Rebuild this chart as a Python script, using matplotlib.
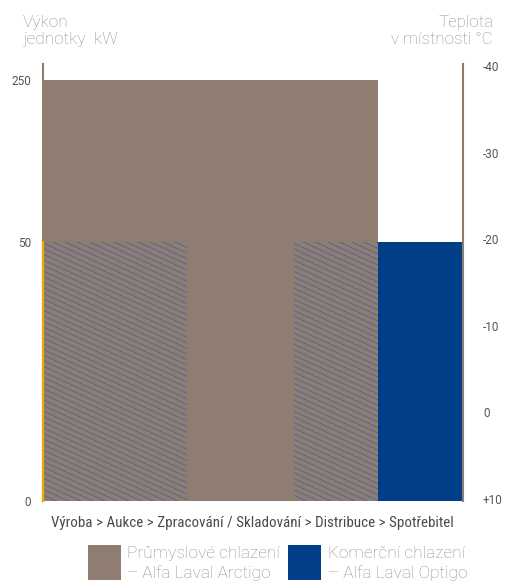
import numpy as np
import matplotlib
matplotlib.use("Agg")
import matplotlib.pyplot as plt
from matplotlib.patches import Rectangle
from matplotlib.transforms import IdentityTransform

# ---------------- data ----------------
stages = ['Výroba', 'Aukce', 'Zpracování / Skladování', 'Distribuce', 'Spotřebitel']
industrial_span = (0.0, 33.5)        # x extent of industrial cooling bar
industrial_kw = 250
commercial_span = (33.5, 42.0)
commercial_kw = 50
hatch_spans = [(0.1, 14.4), (25.1, 33.5)]
hatch_kw = 50
power_ticks = [0, 50, 250]
temp_ticks = [10, 0, -10, -20, -30, -40]
temp_labels = ['+10', '0', '-10', '-20', '-30', '-40']
left_title = ['Výkon', 'jednotky  kW']
right_title = ['Teplota', 'v místnosti °C']
legend_labels = [['Průmyslové chlazení', '– Alfa Laval Arctigo'],
                 ['Komerční chlazení', '– Alfa Laval Optigo']]

BROWN = '#8f7d72'
BLUE = '#003f87'
HATCH = '#3f62a8'
ORANGE = '#f2a900'
TITLE_C = '#9c8b82'
TICK_C = '#555555'

light = ['Roboto', 'DejaVu Sans']
narrow = ['Roboto Condensed', 'Liberation Sans Narrow', 'Roboto', 'DejaVu Sans']

W, H = 506, 583
fig = plt.figure(figsize=(W / 100, H / 100), dpi=100)
ax = fig.add_axes([43 / W, (H - 501) / H, 420 / W, 437 / H])

# piecewise scale for kW axis
kp = [0, 50, 250, 270]
pp = [0, 258, 420, 436]
fwd = lambda v: np.interp(v, kp, pp)
inv = lambda v: np.interp(v, pp, kp)
ax.set_yscale('function', functions=(fwd, inv))
ax.set_ylim(0, 270)
ax.set_xlim(0, 42)

ax.bar(industrial_span[0], industrial_kw, width=industrial_span[1] - industrial_span[0],
       align='edge', color=BROWN, linewidth=0, zorder=2)
ax.bar(commercial_span[0], commercial_kw, width=commercial_span[1] - commercial_span[0],
       align='edge', color=BLUE, linewidth=0, zorder=2)

# hatch regions with shallow diagonal lines (drawn in pixel space, clipped to region)
ident = IdentityTransform()
for x0, x1 in hatch_spans:
    rect = Rectangle((x0, 0), x1 - x0, hatch_kw, facecolor='none', edgecolor='none')
    ax.add_patch(rect)
    (dx0, dy0), (dx1, dy1) = ax.transData.transform([(x0, 0), (x1, hatch_kw)])
    slope = 0.46
    spacing = 5.6
    span = (dx1 - dx0) * slope + (dy1 - dy0)
    for c in np.arange(0, span + spacing, spacing):
        xs = np.array([dx0, dx1])
        ys = dy0 + c - slope * (xs - dx0)
        ln = plt.Line2D(xs, ys, color=HATCH, lw=0.55, zorder=3)
        ln.set_transform(ident)
        ax.add_artist(ln)
        ln.set_transform(ident)
        ln.set_clip_path(rect)

# orange left edge for hatched part
ax.plot([0, 0], [0, hatch_kw], color=ORANGE, lw=1.6, zorder=6, clip_on=False)

for s in ['top', 'bottom', 'right']:
    ax.spines[s].set_visible(False)
ax.spines['left'].set_color(BROWN)
ax.spines['left'].set_linewidth(1.5)
ax.set_xticks([])
ax.set_yticks(power_ticks)
ax.set_yticklabels([str(t) for t in power_ticks])
ax.tick_params(axis='y', length=0, pad=8.6, labelsize=8.5, labelcolor=TICK_C)
for t in ax.get_yticklabels():
    t.set_family(light)

ax2 = ax.twinx()
ax2.set_ylim(10.23, -40.23)
for s in ['top', 'bottom', 'left']:
    ax2.spines[s].set_visible(False)
ax2.spines['right'].set_color(BROWN)
ax2.spines['right'].set_linewidth(1.5)
ax2.set_yticks(temp_ticks)
ax2.set_yticklabels(temp_labels)
ax2.tick_params(axis='y', length=0, pad=14.4, labelsize=8.5, labelcolor=TICK_C)
for t in ax2.get_yticklabels():
    t.set_family(light)

# axis titles
for line, yb in zip(left_title, [27, 44]):
    fig.text(23 / W, 1 - yb / H, line, ha='left', va='baseline', fontsize=12.4,
             color=TITLE_C, family=light, fontweight='light')
for line, yb in zip(right_title, [27, 44]):
    fig.text(493 / W, 1 - yb / H, line, ha='right', va='baseline', fontsize=12.2,
             color=TITLE_C, family=light, fontweight='light')

# x caption
fig.text(252 / W, 1 - 527 / H, ' > '.join(stages), ha='center', va='baseline', fontsize=10.8,
         color='#4a4a4a', family=narrow)

# legend
for (sx, tx), lab, col in zip([(88, 127), (288, 328)], legend_labels, [BROWN, BLUE]):
    fig.patches.append(Rectangle((sx / W, 1 - 580 / H), 33 / W, 35 / H, facecolor=col,
                                 edgecolor='none', transform=fig.transFigure, figure=fig))
    for line, yb in zip(lab, [558, 578]):
        fig.text(tx / W, 1 - yb / H, line, ha='left', va='baseline', fontsize=12.4,
                 color=TITLE_C, family=light, fontweight='light')

fig.savefig('out.png', dpi=100)
